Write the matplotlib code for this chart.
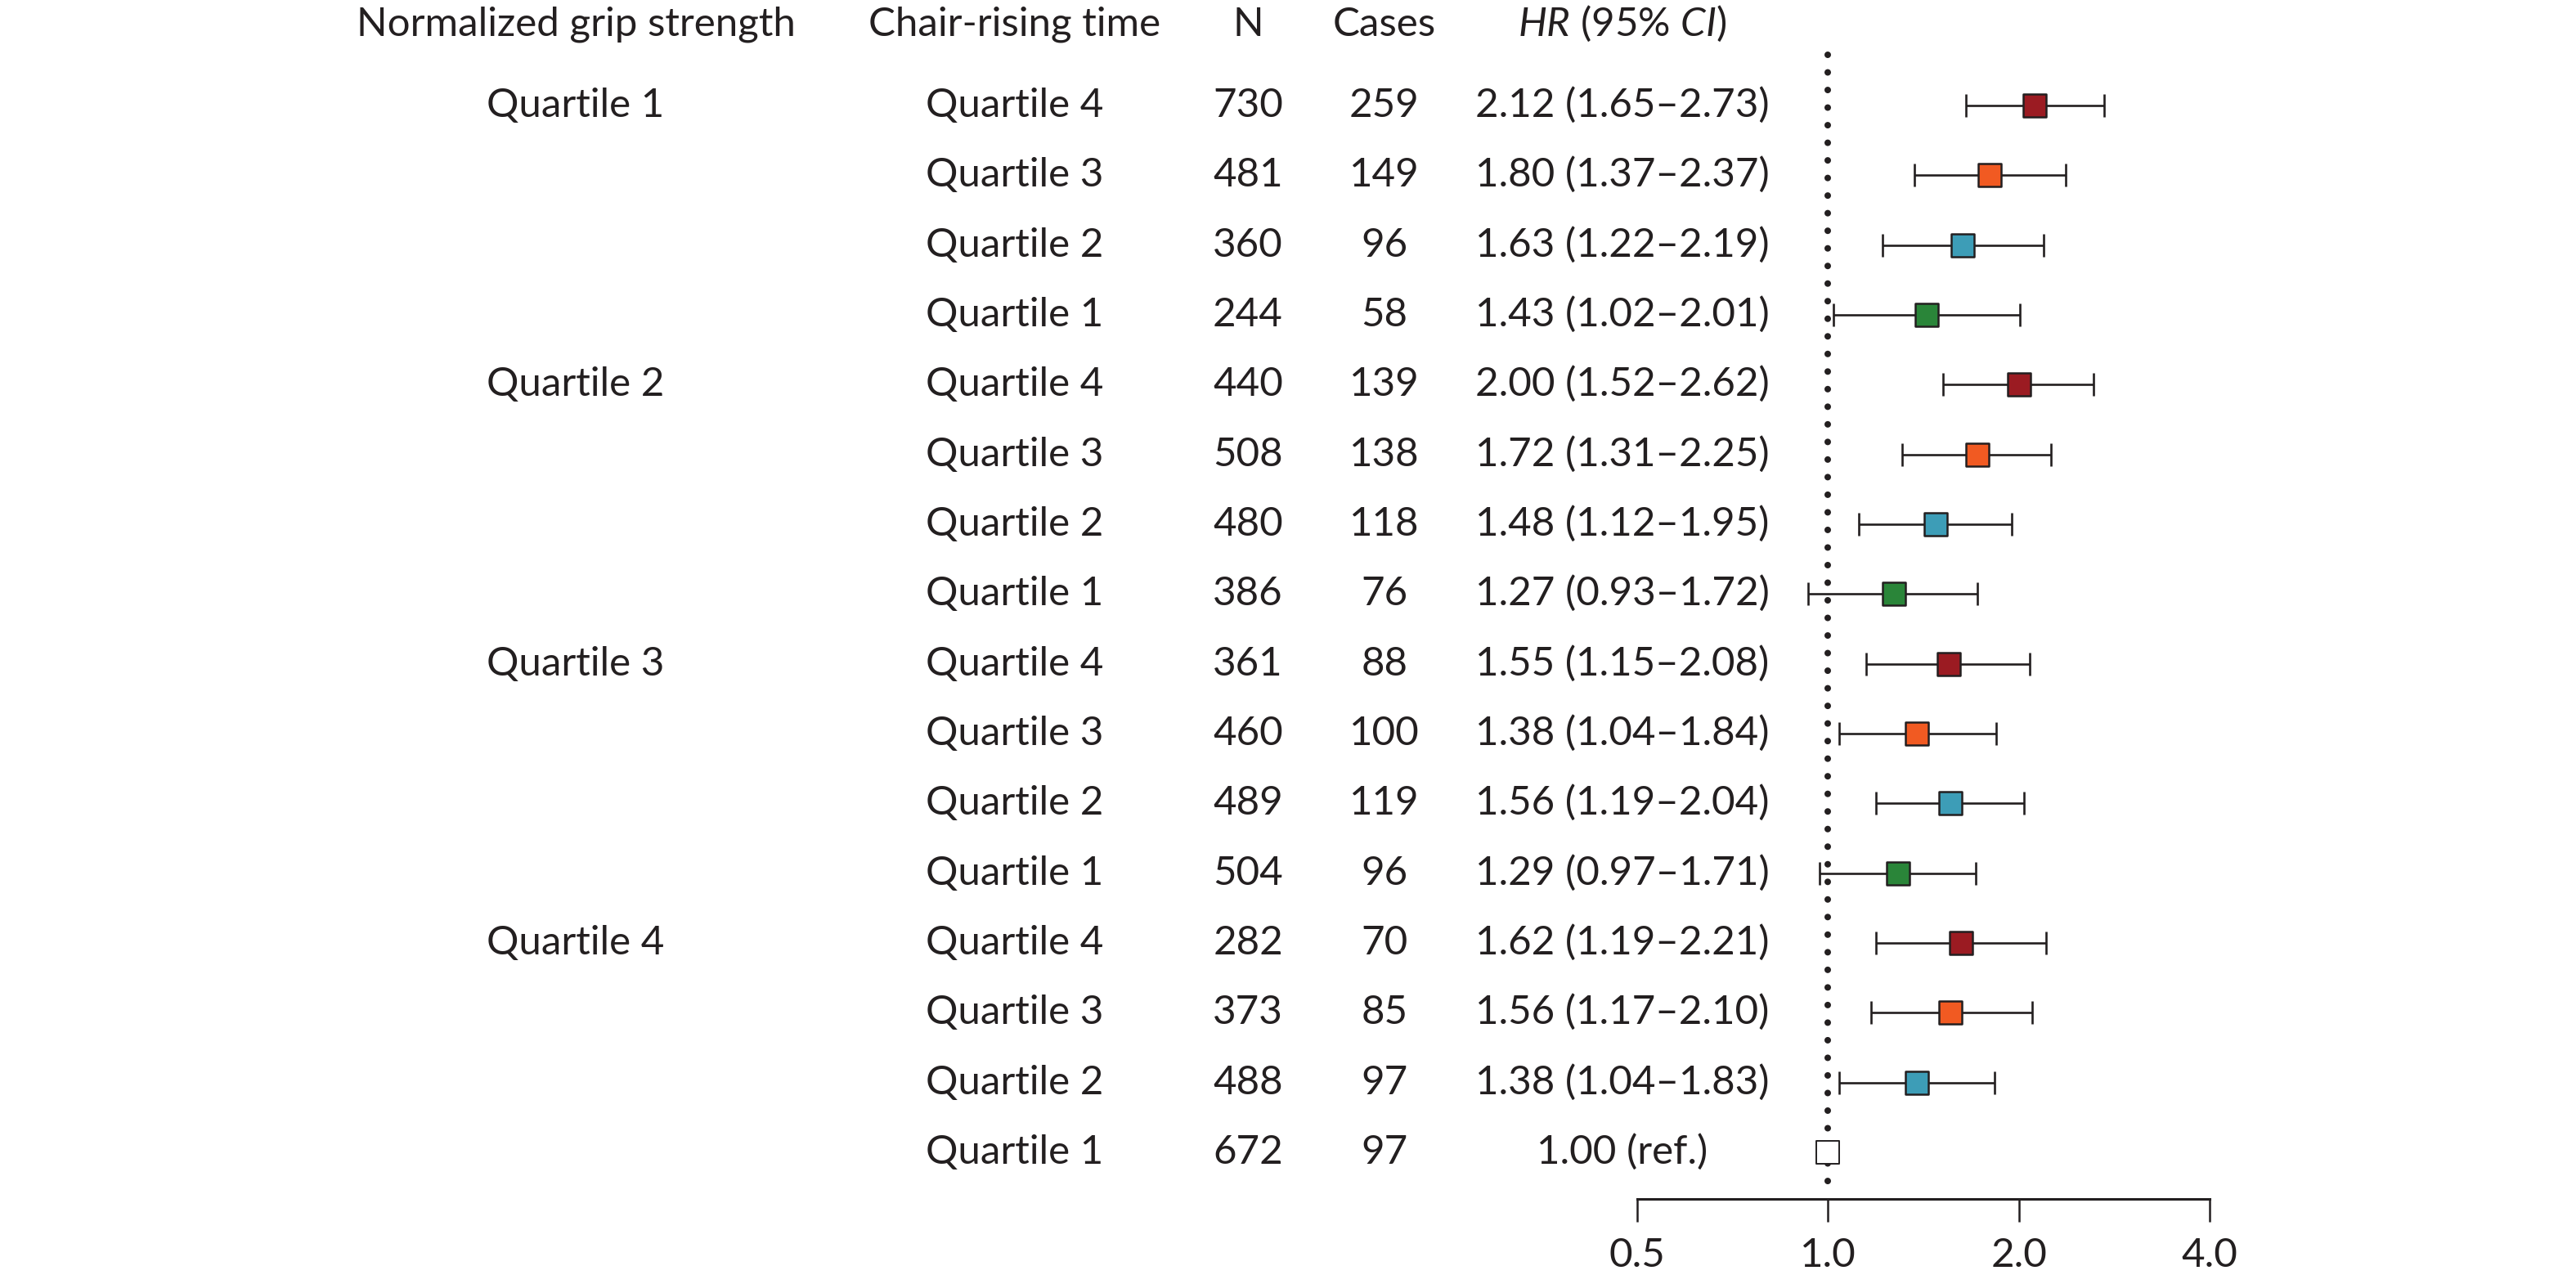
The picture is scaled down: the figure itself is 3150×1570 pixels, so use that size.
# Forest plot: grip strength x chair-rising time, hazard ratios on log2 scale

import matplotlib
matplotlib.use('Agg')
import matplotlib.pyplot as plt
import matplotlib.transforms as mtransforms
from matplotlib.markers import MarkerStyle
from matplotlib.ticker import NullLocator

plt.rcParams['font.family'] = 'sans-serif'
plt.rcParams['font.sans-serif'] = ['Lato', 'DejaVu Sans']
plt.rcParams['mathtext.fontset'] = 'custom'
plt.rcParams['mathtext.rm'] = 'Lato'
plt.rcParams['mathtext.it'] = 'Lato:italic'

# data
grip_groups = ['Quartile 1', 'Quartile 2', 'Quartile 3', 'Quartile 4']
chair_levels = ['Quartile 4', 'Quartile 3', 'Quartile 2', 'Quartile 1']
n_total = [730, 481, 360, 244, 440, 508, 480, 386, 361, 460, 489, 504, 282, 373, 488, 672]
n_cases = [259, 149, 96, 58, 139, 138, 118, 76, 88, 100, 119, 96, 70, 85, 97, 97]
hr = [2.12, 1.80, 1.63, 1.43, 2.00, 1.72, 1.48, 1.27, 1.55, 1.38, 1.56, 1.29, 1.62, 1.56, 1.38, 1.00]
ci_low = [1.65, 1.37, 1.22, 1.02, 1.52, 1.31, 1.12, 0.93, 1.15, 1.04, 1.19, 0.97, 1.19, 1.17, 1.04]
ci_high = [2.73, 2.37, 2.19, 2.01, 2.62, 2.25, 1.95, 1.72, 2.08, 1.84, 2.04, 1.71, 2.21, 2.10, 1.83]
xticks = [0.5, 1.0, 2.0, 4.0]
xtick_labels = ['0.5', '1.0', '2.0', '4.0']
headers = ['Normalized grip strength', 'Chair-rising time', 'N', 'Cases',
           r'$\mathit{HR}$ (95% $\mathit{CI}$)']

dark = '#231F20'
colors = ['#9B1B22', '#F15A22', '#3D9DB7', '#2A8539']  # chair Q4, Q3, Q2, Q1
fs = 35.5

W, H = 3150, 1570
fig = plt.figure(figsize=(W / 100, H / 100), dpi=100)

# forest panel placed in pixels
ax_left, ax_right = 2002, 2702
ax_top, ax_bottom = 1.05, 1466
ax = fig.add_axes([ax_left / W, 1 - ax_bottom / H,
                   (ax_right - ax_left) / W, (ax_bottom - ax_top) / H])
ax.set_xscale('log', base=2)
ax.set_xlim(0.5, 4.0)
ax.set_ylim(15.67, -1.5)

# reference line at HR = 1
ax.plot([1.0, 1.0], [-0.73, 15.53], color=dark, lw=5.8,
        linestyle=(0, (0.001, 2.67)), dash_capstyle='round', zorder=1)

sq = MarkerStyle('s', joinstyle='round')
for i in range(len(ci_low)):
    ax.errorbar(hr[i], i, xerr=[[hr[i] - ci_low[i]], [ci_high[i] - hr[i]]],
                fmt='none', ecolor=dark, elinewidth=1.9, capsize=10,
                capthick=1.9, zorder=2)
    ax.plot(hr[i], i, marker=sq, ms=20, mfc=colors[i % 4], mec=dark,
            mew=1.8, zorder=3)
ax.plot(hr[15], 15, marker=sq, ms=20, mfc='white', mec=dark, mew=1.4, zorder=3)

for s in ['top', 'left', 'right']:
    ax.spines[s].set_visible(False)
ax.spines['bottom'].set_linewidth(2.2)
ax.spines['bottom'].set_color(dark)
ax.set_yticks([])
ax.set_xticks(xticks)
ax.set_xticklabels(xtick_labels)
ax.xaxis.set_minor_locator(NullLocator())
ax.tick_params(axis='x', length=20, width=1.8, pad=14, labelsize=fs,
               colors=dark)
ax.patch.set_visible(False)

# text columns: x in figure fraction, y in data rows
col_x = [704 / W, 1241 / W, 1526 / W, 1693 / W, 1984 / W]
trans = mtransforms.blended_transform_factory(fig.transFigure, ax.transData)
trans = trans + mtransforms.ScaledTranslation(0, -14 / 100, fig.dpi_scale_trans)

def put(x, y, s):
    ax.text(x, y, s, transform=trans, ha='center', va='baseline',
            fontsize=fs, color=dark, clip_on=False)

for j, h in enumerate(headers):
    put(col_x[j], -1.164, h)

for i in range(16):
    if i % 4 == 0:
        put(col_x[0], i, grip_groups[i // 4])
    put(col_x[1], i, chair_levels[i % 4])
    put(col_x[2], i, str(n_total[i]))
    put(col_x[3], i, str(n_cases[i]))
    if i < len(ci_low):
        put(col_x[4], i, f'{hr[i]:.2f} ({ci_low[i]:.2f}\u2013{ci_high[i]:.2f})')
    else:
        put(col_x[4], i, f'{hr[i]:.2f} (ref.)')

fig.savefig('out.png', dpi=100)
